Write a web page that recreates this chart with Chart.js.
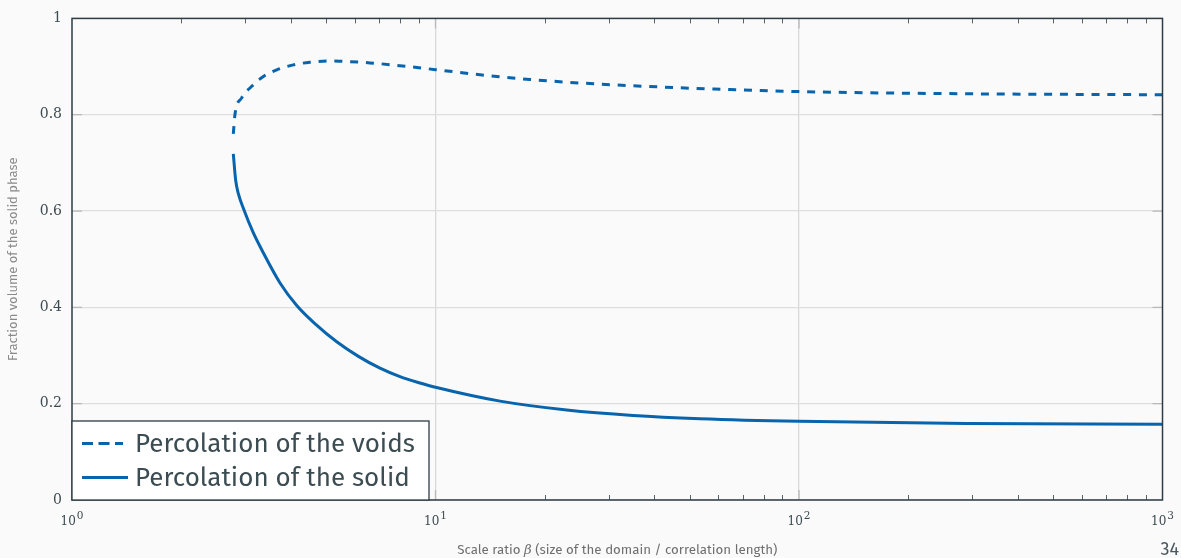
<!DOCTYPE html>
<html>
<head>
<meta charset="utf-8">
<title>Percolation thresholds</title>
<script src="https://cdn.jsdelivr.net/npm/chart.js@4/dist/chart.umd.min.js"></script>
<style>
  html, body { margin: 0; padding: 0; background: #fafafa; }
  canvas { display: block; }
</style>
</head>
<body>
<canvas id="c" width="1181" height="558"></canvas>
<script>
// Scale ratio beta and solid-phase volume fraction at which each phase percolates
const betaVoids = [2.778, 2.808, 2.930, 3.122, 3.360, 3.658, 4.064, 4.515, 5.127, 5.461, 6.605, 7.986, 10, 13.26, 18.20, 24.98, 34.28, 47.05, 64.59, 100, 289.9, 1000];
const fracVoids = [0.760, 0.801, 0.835, 0.859, 0.8795, 0.8932, 0.9035, 0.909, 0.9117, 0.9111, 0.9076, 0.9018, 0.8936, 0.883, 0.8731, 0.8659, 0.8604, 0.8559, 0.8522, 0.848, 0.8435, 0.8415];

const betaSolid = [2.778, 2.820, 2.867, 2.973, 3.148, 3.360, 3.735, 4.152, 4.692, 5.349, 6.121, 7.036, 7.986, 9.066, 10, 15.05, 22.95, 34.94, 53.42, 100, 288, 1000];
const fracSolid = [0.7187, 0.6639, 0.6366, 0.6023, 0.5561, 0.5133, 0.4507, 0.4039, 0.3641, 0.3285, 0.2988, 0.2737, 0.2561, 0.2429, 0.234, 0.2053, 0.1869, 0.1756, 0.1688, 0.1633, 0.1591, 0.1575];

const seriesLabels = ['Percolation of the voids', 'Percolation of the solid'];
const yTickLabels = ['0', '0.2', '0.4', '0.6', '0.8', '1'];
const xTickExponents = ['0', '1', '2', '3'];
const xTitleParts = ['Scale ratio ', '\u03B2', ' (size of the domain / correlation length)'];
const yTitle = 'Fraction volume of the solid phase';
const pageNumber = '34';

const BLUE = '#0864ad';
const INK = '#2e3d44';
const SANS = "'Fira Sans', 'Open Sans', sans-serif";
const SERIF = "'DejaVu Serif', serif";

const toPoints = (xs, ys) => xs.map((x, i) => ({ x: x, y: ys[i] }));
const isDecade = v => Math.abs(Math.log10(v) - Math.round(Math.log10(v))) < 1e-9;

// Frame, inward ticks, superscript tick labels, legend box and footer text
const decorations = {
  id: 'decorations',
  beforeDraw(chart) {
    const ctx = chart.ctx;
    ctx.save();
    ctx.fillStyle = '#fafafa';
    ctx.fillRect(0, 0, chart.width, chart.height);
    ctx.restore();
  },
  afterDatasetsDraw(chart) {
    const ctx = chart.ctx;
    const { left, right, top, bottom } = chart.chartArea;
    const xs = chart.scales.x, ys = chart.scales.y;
    ctx.save();

    // major tick marks over the grid lines
    ctx.strokeStyle = '#b9b9b9';
    ctx.lineWidth = 1.3;
    ctx.beginPath();
    [0.2, 0.4, 0.6, 0.8].forEach(v => {
      const y = ys.getPixelForValue(v);
      ctx.moveTo(left, y); ctx.lineTo(left + 10, y);
      ctx.moveTo(right - 10, y); ctx.lineTo(right, y);
    });
    [10, 100].forEach(v => {
      const x = xs.getPixelForValue(v);
      ctx.moveTo(x, bottom); ctx.lineTo(x, bottom - 10);
      ctx.moveTo(x, top); ctx.lineTo(x, top + 10);
    });
    ctx.stroke();

    // minor ticks of the log axis, top and bottom, pointing inward
    ctx.strokeStyle = '#55646b';
    ctx.lineWidth = 1;
    ctx.beginPath();
    for (let d = 0; d < 3; d++) {
      for (let m = 2; m <= 9; m++) {
        const x = Math.round(xs.getPixelForValue(m * Math.pow(10, d))) + 0.5;
        ctx.moveTo(x, bottom); ctx.lineTo(x, bottom - 5);
        ctx.moveTo(x, top); ctx.lineTo(x, top + 5);
      }
    }
    ctx.stroke();

    // axis frame
    ctx.strokeStyle = INK;
    ctx.lineWidth = 1.5;
    ctx.strokeRect(left, top, right - left, bottom - top);

    // x tick labels as 10^n
    ctx.fillStyle = '#3c4b51';
    ctx.textBaseline = 'alphabetic';
    ctx.textAlign = 'left';
    xTickExponents.forEach(e => {
      const x = xs.getPixelForValue(Math.pow(10, Number(e)));
      ctx.font = '12px ' + SERIF;
      const wb = ctx.measureText('10').width;
      ctx.font = '10.5px ' + SERIF;
      const we = ctx.measureText(e).width;
      const x0 = x - (wb + we + 1) / 2;
      ctx.font = '12px ' + SERIF;
      ctx.fillText('10', x0, 525);
      ctx.font = '10.5px ' + SERIF;
      ctx.fillText(e, x0 + wb + 1, 519);
    });

    // x axis title with an italic serif beta
    const fonts = ['13.3px ' + SANS, 'italic 13.3px ' + SERIF, '13.3px ' + SANS];
    let total = 0;
    const widths = xTitleParts.map((t, i) => { ctx.font = fonts[i]; const w = ctx.measureText(t).width; total += w; return w; });
    let tx = (left + right) / 2 - total / 2;
    ctx.fillStyle = '#6f6f6f';
    xTitleParts.forEach((t, i) => { ctx.font = fonts[i]; ctx.fillText(t, tx, 554); tx += widths[i]; });

    // page number
    ctx.font = '18px ' + SANS;
    ctx.fillStyle = '#4a585e';
    ctx.textAlign = 'right';
    ctx.fillText(pageNumber, 1179, 555);

    // legend box in the lower left corner of the plot
    const lx = left, ly = 421, lw = 357, lh = bottom - 421;
    ctx.fillStyle = '#ffffff';
    ctx.fillRect(lx, ly, lw, lh);
    ctx.strokeStyle = INK;
    ctx.lineWidth = 1.3;
    ctx.strokeRect(lx, ly, lw, lh);
    const rows = [443.5, 477.5];
    chart.data.datasets.forEach((ds, i) => {
      const y = rows[i];
      ctx.strokeStyle = ds.borderColor;
      ctx.lineWidth = 3;
      ctx.setLineDash(i === 0 ? [11, 5.5] : []);
      ctx.beginPath();
      ctx.moveTo(lx + 10, y);
      ctx.lineTo(lx + (i === 0 ? 51 : 56), y);
      ctx.stroke();
      ctx.setLineDash([]);
      ctx.font = '26px ' + SANS;
      ctx.fillStyle = '#3b4c52';
      ctx.textAlign = 'left';
      ctx.fillText(ds.label, lx + 63, y + 8.5);
    });

    ctx.restore();
  }
};

new Chart(document.getElementById('c'), {
  type: 'line',
  data: {
    datasets: [
      {
        label: seriesLabels[0],
        data: toPoints(betaVoids, fracVoids),
        borderColor: BLUE,
        borderWidth: 3,
        borderDash: [8, 7.8],
        pointRadius: 0,
        cubicInterpolationMode: 'monotone',
        fill: false
      },
      {
        label: seriesLabels[1],
        data: toPoints(betaSolid, fracSolid),
        borderColor: BLUE,
        borderWidth: 3,
        pointRadius: 0,
        cubicInterpolationMode: 'monotone',
        fill: false
      }
    ]
  },
  options: {
    responsive: false,
    animation: false,
    devicePixelRatio: 1,
    layout: { padding: { left: 0, top: 13, right: 18.5, bottom: 0 } },
    plugins: {
      legend: { display: false },
      tooltip: { enabled: false }
    },
    scales: {
      x: {
        type: 'logarithmic',
        min: 1,
        max: 1000,
        border: { display: false },
        ticks: { display: false, autoSkip: false },
        grid: {
          drawTicks: false,
          lineWidth: 1.3,
          color: c => (c.tick && isDecade(c.tick.value) && c.tick.value > 1 && c.tick.value < 1000) ? '#d9d9d9' : 'rgba(0,0,0,0)'
        },
        afterFit: s => { s.height = 58; }
      },
      y: {
        min: 0,
        max: 1,
        border: { display: false },
        ticks: {
          stepSize: 0.2,
          padding: 10,
          color: '#3c4b51',
          font: { family: SERIF, size: 14 },
          callback: (v, i) => yTickLabels[i]
        },
        grid: {
          drawTicks: false,
          lineWidth: 1.3,
          color: '#dedede'
        },
        title: {
          display: true,
          text: yTitle,
          color: '#8a8a8a',
          font: { family: SANS, size: 13 },
          padding: { top: 6, bottom: 0 }
        },
        afterFit: s => { s.width = 72; }
      }
    }
  },
  plugins: [decorations]
});
</script>
</body>
</html>
